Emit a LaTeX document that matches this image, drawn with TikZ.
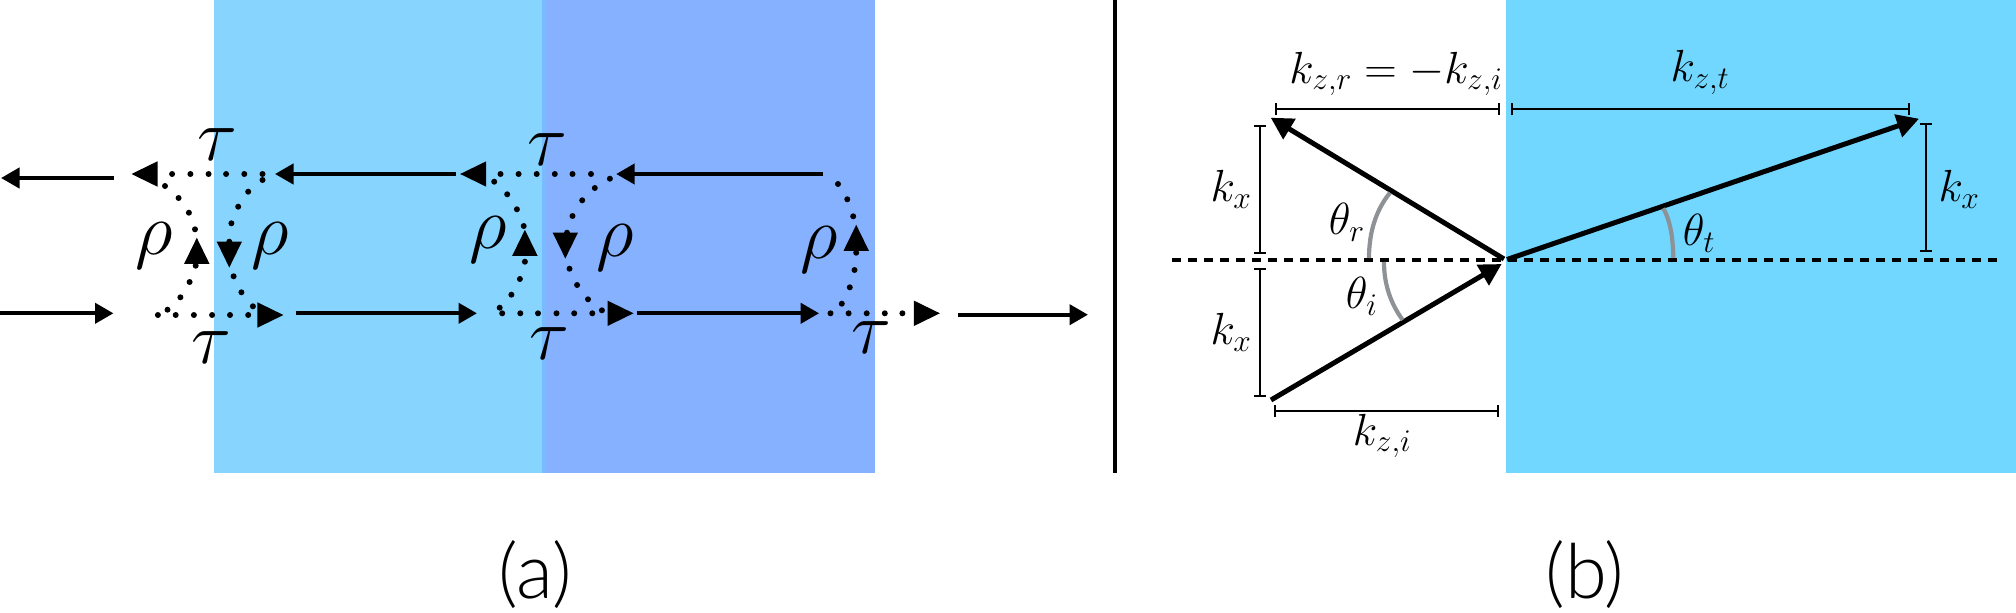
\documentclass[tikz,border=0pt]{standalone}
\usepackage{fix-cm}
\usepackage{fontspec}
\usepackage{amsmath}
\newfontfamily\lab{Lato Light}
\usetikzlibrary{arrows.meta}
\definecolor{blueA}{HTML}{87D4FF}
\definecolor{blueB}{HTML}{85B1FF}
\definecolor{blueC}{HTML}{71D7FF}
\definecolor{blueM}{HTML}{78BCFF}
\definecolor{arcgrey}{HTML}{8E9196}
\newcommand\bigtri[3]{\fill[black,shift={(#1,#2)},rotate=#3] (13,0) -- (-13,12.7) -- (-13,-12.7) -- cycle;}
\newcommand\ink[1]{\fontsize{74}{74}\selectfont$#1$}
\newcommand\kk[1]{\fontsize{45}{45}\selectfont$#1$}
\tikzset{
  flow/.style={line width=4.2pt,-{Triangle[length=18.5pt,width=20pt]}},
  vec/.style={line width=5pt,-{Triangle[length=22pt,width=23pt]}},
  dim/.style={line width=2pt,{Bar[width=12pt,line width=2pt]}-{Bar[width=12pt,line width=2pt]}},
  lbl/.style={inner sep=0pt,outer sep=0pt},
  angarc/.style={draw=arcgrey,line width=4.2pt},
}
\begin{document}
\begin{tikzpicture}[x=1pt,y=-1pt]
\useasboundingbox (0,0) rectangle (2016,613);
% media
\fill[blueA] (213.6,0) rectangle (543,472.5);
\fill[blueB] (543,0) rectangle (875,472.5);
\fill[blueM] (542,0) rectangle (546,472.5);
\fill[blueC] (1506,0) rectangle (2016,472.5);
\draw[line width=4pt] (1114.5,0) -- (1114.5,472.5);
% panel (a): solid arrows
\coordinate (a1s) at (114,178);   \coordinate (a1e) at (1,178);
\coordinate (a2s) at (0,313.3);   \coordinate (a2e) at (113.5,313.3);
\coordinate (a3s) at (456,174);   \coordinate (a3e) at (275,174);
\coordinate (a4s) at (295.7,313.3); \coordinate (a4e) at (477,313.3);
\coordinate (a5s) at (822.9,174); \coordinate (a5e) at (616.2,174);
\coordinate (a6s) at (636.9,313.3); \coordinate (a6e) at (819.1,313.3);
\coordinate (a7s) at (957.6,314.7); \coordinate (a7e) at (1088,314.7);
\foreach \n in {1,...,7} \draw[flow] (a\n s) -- (a\n e);
% panel (a): dots
\foreach \x/\y in {
 172.1/174,190.4/174,208.6/174,226.1/174,244.3/174,262.5/174,
 165/186,178.6/198,188.9/212.7,195/229.3,195.7/265.7,189.6/282,180.4/297.3,167.5/309.7,157.9/315,
 175.7/315,193.9/315,212.1/315,230/315,248.2/315,
 262.5/180,248.2/191.7,238.2/206.7,231.4/223.3,229.3/241.7,233.6/276.3,241.4/292.3,252.9/306.3,
 500.5/174,518.6/174,536.7/174,554.8/174,572.5/174,591/174,
 494.2/181.7,507.2/194.3,516.9/209.3,523.7/226,524.9/261.7,519.9/279,511.4/294.7,499.7/307.7,502.2/313.3,
 520.3/313.3,538/313.3,556.5/313.3,574.2/313.3,592.3/313.3,
 609.9/178.7,594.8/188,582.2/200.3,572.5/216,567/232.7,569.5/268.7,577.1/285,588/299.3,601.9/310.3,
 838/184,847.3/199.3,853.2/216.3,856.2/252.7,854.5/270,849.8/287.3,841.8/303.7,830.5/313.3,
 848.6/313.3,866.7/313.3,884.8/313.3,902.4/313.3}
  \fill (\x,\y) circle (3);
% panel (a): big triangles
\bigtri{144.5}{174}{180}
\bigtri{270.4}{315}{0}
\bigtri{196.8}{250.8}{90}
\bigtri{229.3}{254.5}{-90}
\bigtri{473.2}{174}{180}
\bigtri{620.5}{313.3}{0}
\bigtri{524.9}{242.8}{90}
\bigtri{565.3}{245.5}{-90}
\bigtri{856.2}{237.8}{90}
\bigtri{926.9}{313.3}{0}
% panel (a): labels
\node[lbl] (t1) at (217,145) {\ink{\tau}};
\node[lbl] (t2) at (211,347.3) {\ink{\tau}};
\node[lbl] (t3) at (547.2,149.2) {\ink{\tau}};
\node[lbl] (t4) at (549.7,343.3) {\ink{\tau}};
\node[lbl] (t5) at (871.7,337.3) {\ink{\tau}};
\node[lbl] (r1) at (154.3,246) {\ink{\rho}};
\node[lbl] (r2) at (270.4,246) {\ink{\rho}};
\node[lbl] (r3) at (488.6,239.7) {\ink{\rho}};
\node[lbl] (r4) at (615,248) {\ink{\rho}};
\node[lbl] (r5) at (819,250) {\ink{\rho}};
\node[lbl] (capa) at (535,575) {\lab\fontsize{76}{76}\selectfont (a)};
\node[lbl] (capb) at (1585,575) {\lab\fontsize{76}{76}\selectfont (b)};
% panel (b)
\coordinate (dl) at (1172,260); \coordinate (dr) at (1997,260);
\draw[line width=4.5pt,dash pattern=on 9pt off 7pt] (dl) -- (dr);
\coordinate (v0) at (1504,259);
\coordinate (vr) at (1270.7,117.7);
\coordinate (vi) at (1271,400);
\coordinate (vie) at (1501.7,264);
\coordinate (vts) at (1507,259.5);
\coordinate (vt) at (1919,118.7);
\draw[vec] (v0) -- (vr);
\draw[vec] (vi) -- (vie);
\draw[vec] (vts) -- (vt);
\coordinate (d1a) at (1275,109.3); \coordinate (d1b) at (1500,109.3);
\coordinate (d2a) at (1511,109.3); \coordinate (d2b) at (1910,109.3);
\coordinate (d3a) at (1273.7,411); \coordinate (d3b) at (1498.7,411);
\coordinate (d4a) at (1260,124.7); \coordinate (d4b) at (1260,254);
\coordinate (d5a) at (1260,268.3); \coordinate (d5b) at (1260,397.3);
\coordinate (d6a) at (1925.7,123.3); \coordinate (d6b) at (1925.7,252.3);
\foreach \n in {1,...,6} \draw[dim] (d\n a) -- (d\n b);
\draw[angarc] (1369,258) .. controls (1369,232) and (1376,210) .. (1390,192.7);
\draw[angarc] (1384,262) .. controls (1384,285) and (1391,304) .. (1402.7,320);
\draw[angarc] (1663.3,208.3) .. controls (1671,222) and (1673,240) .. (1673.3,258);
\node[lbl] (kzr) at (1396,74) {\kk{k_{z,r}=-k_{z,i}}};
\node[lbl] (kzt) at (1700,72.6) {\kk{k_{z,t}}};
\node[lbl] (kzi) at (1382,436) {\kk{k_{z,i}}};
\node[lbl] (kx1) at (1231,189.7) {\kk{k_x}};
\node[lbl] (kx2) at (1231,332) {\kk{k_x}};
\node[lbl] (kx3) at (1959,189.7) {\kk{k_x}};
\node[lbl] (thr) at (1346.7,222) {\kk{\theta_r}};
\node[lbl] (thi) at (1361.7,296) {\kk{\theta_i}};
\node[lbl] (tht) at (1699,233.7) {\kk{\theta_t}};
\end{tikzpicture}
\end{document}
